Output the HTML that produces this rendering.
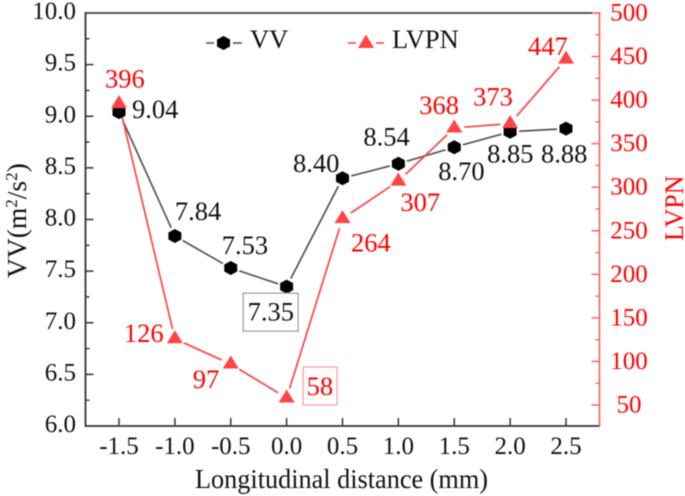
<!DOCTYPE html>
<html>
<head>
<meta charset="utf-8">
<style>
html,body{margin:0;padding:0;background:#fff;width:685px;height:496px;overflow:hidden}
svg{display:block;filter:blur(0.5px)}
text{font-family:"Liberation Serif",serif}
</style>
</head>
<body>
<svg id="chart" xmlns="http://www.w3.org/2000/svg" width="685" height="496" viewBox="0 0 685 496">
  <rect x="0" y="0" width="685" height="496" fill="#fff"/>
  <g id="grid-axes"></g>
  <g id="series"></g>
  <g id="labels"></g>
  <text x="195" y="488" font-size="27" textLength="293" lengthAdjust="spacingAndGlyphs" fill="#111">Longitudinal distance (mm)</text>
  <text transform="translate(26,278) rotate(-90)" font-size="27.5" fill="#111">VV(m<tspan font-size="17" dy="-9">2</tspan><tspan dy="9">/s</tspan><tspan font-size="17" dy="-9">2</tspan><tspan dy="9">)</tspan></text>
  <text transform="translate(683,241) rotate(-90)" font-size="26" fill="#f00">LVPN</text>
  <g>
    <g>
      <line x1="206" y1="43" x2="214" y2="43" stroke="#555" stroke-width="1.6"/>
      <line x1="233" y1="43" x2="242" y2="43" stroke="#555" stroke-width="1.6"/>
      <polygon points="223.5,36 230,39.5 230,46.5 223.5,50 217,46.5 217,39.5" fill="#000"/>
      <text x="250" y="48" font-size="26.5" fill="#111">VV</text>
    </g>
    <g>
      <line x1="348" y1="43" x2="356" y2="43" stroke="#f44" stroke-width="1.6"/>
      <line x1="376" y1="43" x2="384" y2="43" stroke="#f44" stroke-width="1.6"/>
      <polygon points="366,34.5 374,48 358,48" fill="#f44"/>
      <text x="392" y="48" font-size="26.5" fill="#111">LVPN</text>
    </g>
  </g>
</svg>
<script>
const categories = [-1.5, -1.0, -0.5, 0.0, 0.5, 1.0, 1.5, 2.0, 2.5];
const vvValues = [9.04, 7.84, 7.53, 7.35, 8.40, 8.54, 8.70, 8.85, 8.88];
const lvpnValues = [396, 126, 97, 58, 264, 307, 368, 373, 447];
const xTickLabels = ["-1.5", "-1.0", "-0.5", "0.0", "0.5", "1.0", "1.5", "2.0", "2.5"];
const leftTickLabels = ["6.0", "6.5", "7.0", "7.5", "8.0", "8.5", "9.0", "9.5", "10.0"];
const rightTickLabels = ["50", "100", "150", "200", "250", "300", "350", "400", "450", "500"];

/* label placement relative to each point (layout only, not data) */
const vvLabelNudgeX = [13, 0, -9, -39, -49.5, -35, -16, -23, -25];
const vvLabelNudgeY = [6, -16, -14, 34, -6, -18, 33, 31, 34];
const lvpnLabelNudgeX = [-14, -51, -38, 20, 8.5, 2, -35, -37, -38];
const lvpnLabelNudgeY = [-16, 3, 24, -3, 33, 30, -14, -18, -4];

const plotLeft = 85.5, plotRight = 599.5, plotTop = 13, plotBottom = 426;
const NS = 'http://www.w3.org/2000/svg';

function xScale(v) { return 119 + (v + 1.5) * 111.75; }
function yLeft(v) { return plotTop + (10 - v) * 103.25; }
function yRight(v) { return plotTop + (500 - v) * (392 / 450); }

function make(parent, tag, attrs, txt) {
  const el = document.createElementNS(NS, tag);
  for (const k in attrs) el.setAttribute(k, attrs[k]);
  if (txt !== undefined) el.textContent = txt;
  parent.appendChild(el);
  return el;
}

const axes = document.getElementById('grid-axes');
const series = document.getElementById('series');
const labels = document.getElementById('labels');
const dark = '#333', red = '#f55';

/* axis lines */
let axisEl = make(axes, 'line', {x1: plotLeft, y1: plotTop, x2: 592, y2: plotTop, stroke: '#444', 'stroke-width': 1.8});


axisEl = make(axes, 'line', {x1: plotLeft, y1: plotTop - 1, x2: plotLeft, y2: plotBottom + 1, stroke: dark, 'stroke-width': 1.8});


axisEl = make(axes, 'line', {x1: plotLeft, y1: plotBottom, x2: plotRight, y2: plotBottom, stroke: dark, 'stroke-width': 1.8});


axisEl = make(axes, 'line', {x1: plotRight, y1: plotTop - 1, x2: plotRight, y2: plotBottom + 1, stroke: red, 'stroke-width': 1.5});


axisEl = make(axes, 'line', {x1: 592, y1: plotTop, x2: plotRight, y2: plotTop, stroke: red, 'stroke-width': 1.5});



/* x ticks */
xTickLabels.forEach(function (lab) {
  const v = parseFloat(lab), x = xScale(v);
  const t = make(axes, 'line', {x1: x, y1: plotBottom, x2: x, y2: plotBottom - 8, stroke: dark, 'stroke-width': 1.5});
  
  
  const l = make(axes, 'text', {x: x, y: 454, 'text-anchor': 'middle', 'font-size': 25, fill: '#111'}, lab);
  
  
});

/* left ticks */
leftTickLabels.forEach(function (lab) {
  const v = parseFloat(lab), y = yLeft(v);
  if (v < 10 && v > 6) {
    const t = make(axes, 'line', {x1: plotLeft, y1: y, x2: plotLeft + 8, y2: y, stroke: dark, 'stroke-width': 1.5});
    
    
  }
  if (v < 10) {
    const m = make(axes, 'line', {x1: plotLeft, y1: yLeft(v + 0.25), x2: plotLeft + 4, y2: yLeft(v + 0.25), stroke: dark, 'stroke-width': 1.4});
    
    
  }
  const l = make(axes, 'text', {x: 76, y: y + 6, 'text-anchor': 'end', 'font-size': 25, fill: '#111'}, lab);
  
  
});

/* right ticks */
rightTickLabels.forEach(function (lab) {
  const v = parseFloat(lab), y = yRight(v);
  if (v < 500) {
    const t = make(axes, 'line', {x1: plotRight, y1: y, x2: plotRight - 8, y2: y, stroke: red, 'stroke-width': 1.4});
    
    
    const m = make(axes, 'line', {x1: plotRight, y1: yRight(v + 25), x2: plotRight - 4, y2: yRight(v + 25), stroke: red, 'stroke-width': 1.3});
    
    
  }
  const l = make(axes, 'text', {x: 629, y: y + 7.5, 'text-anchor': 'middle', 'font-size': 25, fill: '#f00'}, lab);
  
  
});

/* lines with small gaps around symbols */
function gappedSegments(values, yFn, color, gap, name) {
  for (let i = 0; i < values.length - 1; i++) {
    const x1 = xScale(categories[i]), y1 = yFn(values[i]);
    const x2 = xScale(categories[i + 1]), y2 = yFn(values[i + 1]);
    const d = Math.hypot(x2 - x1, y2 - y1) || 1;
    const ux = (x2 - x1) / d, uy = (y2 - y1) / d;
    const seg = make(series, 'line', {
      x1: x1 + ux * gap, y1: y1 + uy * gap,
      x2: x2 - ux * gap, y2: y2 - uy * gap,
      stroke: color, 'stroke-width': 1.7
    });
    
    
  }
}
gappedSegments(vvValues, yLeft, '#555', 9, 'vv-line-segment');
gappedSegments(lvpnValues, yRight, '#f44', 10, 'lvpn-line-segment');

/* VV markers */
vvValues.forEach(function (v, i) {
  const x = xScale(categories[i]), y = yLeft(v);
  const pts = [[0, -7], [6.5, -3.5], [6.5, 3.5], [0, 7], [-6.5, 3.5], [-6.5, -3.5]]
    .map(function (p) { return (x + p[0]) + ',' + (y + p[1]); }).join(' ');
  const mk = make(series, 'polygon', {points: pts, fill: '#000'});
  
  
});

/* LVPN markers */
lvpnValues.forEach(function (v, i) {
  const x = xScale(categories[i]), y = yRight(v);
  const pts = [[0, -8.5], [8, 4.5], [-8, 4.5]]
    .map(function (p) { return (x + p[0]) + ',' + (y + p[1]); }).join(' ');
  const mk = make(series, 'polygon', {points: pts, fill: '#f44'});
  
  
});

/* printed values */
vvValues.forEach(function (v, i) {
  const x = xScale(categories[i]), y = yLeft(v);
  const t = make(labels, 'text', {x: x + vvLabelNudgeX[i], y: y + vvLabelNudgeY[i], 'font-size': 26.5, fill: '#111'}, v.toFixed(2));
  
  
});
lvpnValues.forEach(function (v, i) {
  const x = xScale(categories[i]), y = yRight(v);
  const t = make(labels, 'text', {x: x + lvpnLabelNudgeX[i], y: y + lvpnLabelNudgeY[i], 'font-size': 26.5, fill: '#f00'}, String(v));
  
  
});

/* boxes around the minima */
const vvMinIndex = vvValues.indexOf(Math.min.apply(null, vvValues));
const lvpnMinIndex = lvpnValues.indexOf(Math.min.apply(null, lvpnValues));
const vvBox = make(labels, 'rect', {
  x: xScale(categories[vvMinIndex]) - 43.5, y: yLeft(vvValues[vvMinIndex]) + 6.5,
  width: 55, height: 38, fill: 'none', stroke: '#999', 'stroke-width': 1.2
});


const lvpnBox = make(labels, 'rect', {
  x: xScale(categories[lvpnMinIndex]) + 16.5, y: yRight(lvpnValues[lvpnMinIndex]) - 31,
  width: 34, height: 38, fill: 'none', stroke: '#f99', 'stroke-width': 1.2
});


</script>
</body>
</html>
